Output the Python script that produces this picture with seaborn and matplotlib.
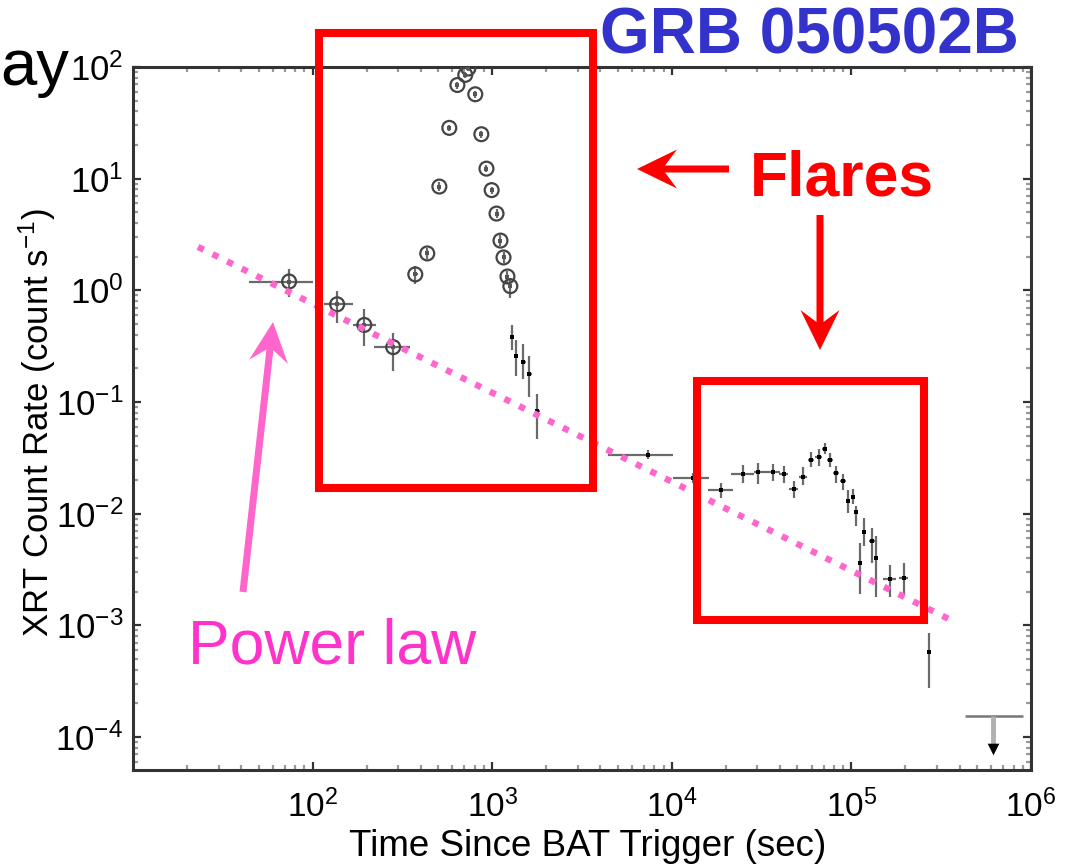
import numpy as np
import pandas as pd
import matplotlib
matplotlib.use("Agg")
import matplotlib.pyplot as plt
from matplotlib.patches import Rectangle, FancyArrow
import seaborn as sns

# ---- light curve: windowed-timing segment (open circles) ----
wt_time = [74, 137, 194, 281, 373, 435, 508, 577, 640, 708, 736, 805, 870,
           929, 993, 1057, 1112, 1156, 1216, 1262]
wt_t_lo = [44, 116, 168, 220, 362, 425, 497, 566, 630, 697, 726, 795, 860,
           919, 983, 1047, 1102, 1146, 1206, 1252]
wt_t_hi = [101, 168, 226, 350, 384, 445, 519, 588, 650, 719, 746, 815, 880,
           939, 1003, 1067, 1122, 1166, 1226, 1272]
wt_rate = [1.2, 0.75, 0.49, 0.31, 1.39, 2.14, 8.5, 28.5, 69, 85, 97, 57, 25,
           12.3, 7.9, 4.87, 2.79, 1.97, 1.33, 1.09]
wt_rate_lo = [0.88, 0.51, 0.316, 0.189, 1.15, 1.9, 7.7, 26.5, 64, 80, 92, 53,
              23, 11.4, 7.3, 4.4, 2.5, 1.75, 1.15, 0.85]
wt_rate_hi = [1.54, 0.98, 0.676, 0.413, 1.65, 2.4, 9.3, 30.5, 74, 90, 102, 61,
              27, 13.2, 8.5, 5.3, 3.1, 2.2, 1.5, 1.3]

# ---- light curve: photon-counting segment (small crosses) ----
pc_time = [1290, 1364, 1493, 1612, 1786, 7330, 13060, 18700, 24800, 30100,
           36500, 42000, 47700, 53600, 59400, 65800, 71100, 75900, 81900,
           89500, 95500, 101900, 106000, 111500, 117300, 130000, 136800,
           163700, 196000, 270000]
pc_t_lo = [1270, 1330, 1440, 1560, 1720, 4390, 10100, 15850, 21300, 28600,
           33000, 39500, 45000, 51000, 57000, 63000, 69000, 73500, 79000,
           86000, 93000, 99000, 103500, 108500, 114000, 125000, 133000,
           150000, 185000, 262000]
pc_t_hi = [1310, 1400, 1550, 1670, 1850, 10100, 16200, 21800, 28600, 33000,
           40000, 44500, 50500, 56500, 62000, 68500, 73500, 78500, 85000,
           93000, 98000, 104500, 108500, 114500, 120500, 135000, 140500,
           178000, 207000, 278000]
pc_rate = [0.38, 0.26, 0.23, 0.18, 0.083, 0.0336, 0.021, 0.0164, 0.0228,
           0.0237, 0.0237, 0.0228, 0.0167, 0.0214, 0.0303, 0.0323, 0.038,
           0.0303, 0.0232, 0.0197, 0.0131, 0.0142, 0.0104, 0.00365, 0.0069,
           0.00574, 0.00405, 0.00258, 0.00263, 5.74e-4]
pc_rate_lo = [0.29, 0.17, 0.16, 0.11, 0.047, 0.031, 0.019, 0.0139, 0.019,
              0.0186, 0.0195, 0.019, 0.0139, 0.018, 0.026, 0.027, 0.034,
              0.026, 0.019, 0.0164, 0.0101, 0.0121, 0.0077, 0.0019, 0.0051,
              0.0036, 0.0018, 0.0018, 0.0019, 2.74e-4]
pc_rate_hi = [0.49, 0.36, 0.33, 0.26, 0.118, 0.037, 0.023, 0.019, 0.0274,
              0.0284, 0.028, 0.027, 0.0195, 0.026, 0.036, 0.038, 0.043,
              0.035, 0.027, 0.0228, 0.0163, 0.0167, 0.0118, 0.0055, 0.0091,
              0.0074, 0.0063, 0.0035, 0.0036, 8.5e-4]

# ---- late-time upper limit ----
ul_time = [614000]
ul_t_lo = [428000]
ul_t_hi = [900000]
ul_rate = [1.54e-4]
ul_arrow_end = [7.8e-5]

# ---- underlying power-law decay ----
pl_time = [23, 3.49e5]
pl_rate = [2.45, 1.14e-3]

# ---- flare intervals: (t_start, t_end, rate_low, rate_high) ----
flare_windows = [(109, 3620, 0.017, 201), (13900, 2.54e5, 1.12e-3, 0.1545)]

x_ticks = [1e2, 1e3, 1e4, 1e5, 1e6]
y_ticks = [1e-4, 1e-3, 1e-2, 1e-1, 1e0, 1e1, 1e2]

sns.set_theme(style="ticks")
plt.rcParams["font.family"] = ["Liberation Sans", "DejaVu Sans"]
plt.rcParams["mathtext.default"] = "regular"

W, H = 1065, 865
fig = plt.figure(figsize=(W / 100, H / 100), dpi=100)
fig.patch.set_facecolor("white")
ax = fig.add_axes([133 / W, 1 - 770 / H, (1031 - 133) / W, (770 - 67) / H])
ax.set_facecolor("white")

wt = pd.DataFrame({"t": wt_time, "rate": wt_rate})
pc = pd.DataFrame({"t": pc_time, "rate": pc_rate})

err_kw = dict(fmt="none", ecolor="#6a6a6a", elinewidth=1.6, capsize=0, zorder=3)
ax.errorbar(wt_time, wt_rate,
            xerr=[np.subtract(wt_time, wt_t_lo), np.subtract(wt_t_hi, wt_time)],
            yerr=[np.subtract(wt_rate, wt_rate_lo), np.subtract(wt_rate_hi, wt_rate)],
            **err_kw)
ax.errorbar(pc_time, pc_rate,
            xerr=[np.subtract(pc_time, pc_t_lo), np.subtract(pc_t_hi, pc_time)],
            yerr=[np.subtract(pc_rate, pc_rate_lo), np.subtract(pc_rate_hi, pc_rate)],
            **err_kw)

sns.scatterplot(data=wt, x="t", y="rate", ax=ax, marker="o", s=100,
                facecolor="none", edgecolor="#444444", linewidth=1.6, zorder=4)
sns.scatterplot(data=wt, x="t", y="rate", ax=ax, marker="s", s=5,
                color="#555555", linewidth=0, zorder=4)
sns.scatterplot(data=pc, x="t", y="rate", ax=ax, marker="s", s=10,
                color="black", linewidth=0, zorder=4)

# upper limit: horizontal extent, grey stem and a black downward head
ax.errorbar(ul_time, ul_rate,
            xerr=[np.subtract(ul_time, ul_t_lo), np.subtract(ul_t_hi, ul_time)],
            fmt="none", ecolor="#777777", elinewidth=1.8, capsize=0, zorder=3)
ax.vlines(ul_time, ul_arrow_end, ul_rate, color="#b0b0b0", linewidth=3.5,
          zorder=3)
sns.scatterplot(x=ul_time, y=ul_arrow_end, ax=ax, marker="v", s=70,
                color="black", linewidth=0, zorder=4)

# power-law decay
sns.lineplot(x=pl_time, y=pl_rate, ax=ax, color="#ff66cc", linewidth=4.6,
             zorder=5)
ax.lines[-1].set_linestyle((0, (1.0, 1.55)))
ax.lines[-1].set_dash_capstyle("butt")
ax.lines[-1].set_clip_on(False)

# flare boxes
for t0, t1, r0, r1 in flare_windows:
    ax.add_patch(Rectangle((t0, r0), t1 - t0, r1 - r0, fill=False,
                           edgecolor="#ff0000", linewidth=5.8, zorder=6,
                           clip_on=False, joinstyle="miter"))

ax.set_xscale("log")
ax.set_yscale("log")
ax.set_xlim(10, 1e6)
ax.set_ylim(5.07e-5, 100)
ax.set_xticks(x_ticks)
ax.set_yticks(y_ticks)
ax.set_xlabel("")
ax.set_ylabel("")

for s in ax.spines.values():
    s.set_visible(True)
    s.set_linewidth(2.2)
    s.set_color("#333333")

ax.tick_params(which="both", direction="in", top=True, right=True)
ax.tick_params(which="major", length=6, width=1.6, color="#333333")
ax.tick_params(which="minor", length=3.8, width=1.6, color="#9a9a9a")
ax.tick_params(axis="x", which="major", labelsize=24, pad=14, labelcolor="black")
ax.tick_params(axis="y", which="major", labelsize=25, pad=7, labelcolor="black")

fig.text(588 / W, 1 - 856 / H, "Time Since BAT Trigger (sec)", ha="center",
         va="baseline", fontsize=26.5, color="black")
fig.text(37 / W, 1 - 423 / H, r"XRT Count Rate (count s$^{-1}$)", ha="center",
         va="center", rotation=90, fontsize=25, color="black")

# annotation layer in pixel coordinates
ov = fig.add_axes([0, 0, 1, 1], zorder=10)
ov.set_xlim(0, W)
ov.set_ylim(H, 0)
ov.axis("off")
ov.patch.set_alpha(0)

ov.text(0, 85, "ay", fontsize=47, color="black", ha="left", va="baseline")
ov.text(600, 53, "GRB 050502B", fontsize=46, fontweight="bold",
        color="#3333cc", ha="left", va="baseline")
ov.text(750, 196, "Flares", fontsize=45, fontweight="bold", color="#ff0000",
        ha="left", va="baseline")
ov.text(188, 663, "Power law", fontsize=45, color="#ff33cc", ha="left",
        va="baseline")

arrow_kw = dict(width=7, head_width=39, head_length=40, overhang=0.3,
                length_includes_head=True, linewidth=0)
ov.add_patch(FancyArrow(729, 169, -92, 0, color="#ff0000", **arrow_kw))
ov.add_patch(FancyArrow(820, 215, 0, 135, color="#ff0000", **arrow_kw))
ov.add_patch(FancyArrow(243, 592, 30, -270, color="#ff66cc", **arrow_kw))

fig.savefig("out.png", dpi=100, facecolor="white")
